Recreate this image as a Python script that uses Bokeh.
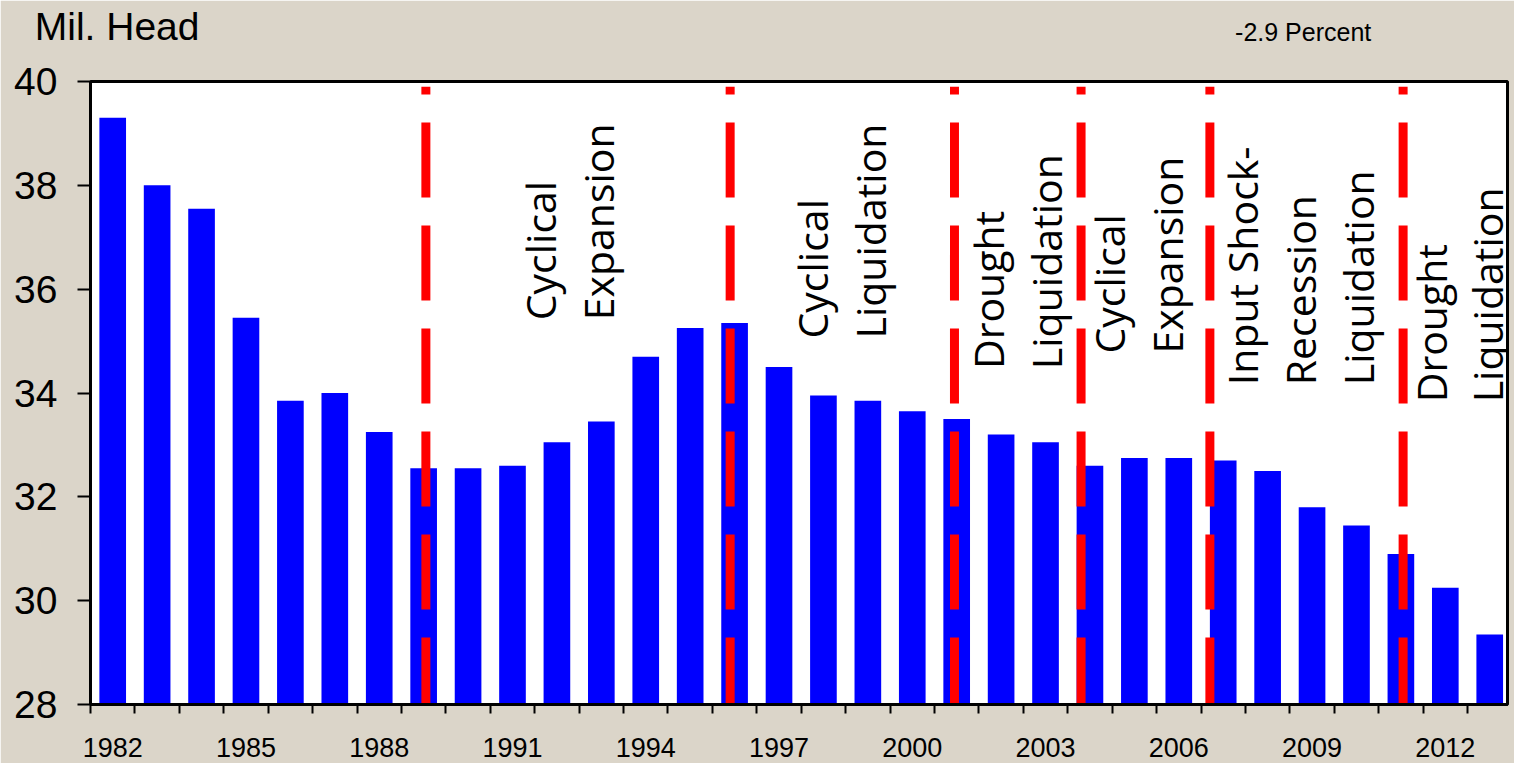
import math
from bokeh.plotting import figure
from bokeh.models import Range1d, FixedTicker, ColumnDataSource, LabelSet, LinearAxis
from bokeh.core.properties import value
from bokeh.embed import file_html
from bokeh.resources import INLINE

# ---- data ----
years = list(range(1982, 2014))
beef_cows_mil_head = [39.3, 38.0, 37.55, 35.45, 33.85, 34.0, 33.25, 32.55, 32.55, 32.6,
                      33.05, 33.45, 34.7, 35.25, 35.35, 34.5, 33.95, 33.85, 33.65, 33.5,
                      33.2, 33.05, 32.6, 32.75, 32.75, 32.7, 32.5, 31.8, 31.45, 30.9,
                      30.25, 29.35]
x_label_years = list(range(1982, 2013, 3))
y_ticks = [28, 30, 32, 34, 36, 38, 40]
phase_breaks = [1989.05, 1995.9, 2000.95, 2003.8, 2006.7, 2011.05]
phase_text = ["Cyclical", "Expansion",
              "Cyclical", "Liquidation",
              "Drought", "Liquidation",
              "Cyclical", "Expansion",
              "Input Shock-", "Recession", "Liquidation",
              "Drought", "Liquidation"]
phase_text_x = [1991.98, 1993.29,
                1998.11, 1999.41,
                2002.07, 2003.37,
                2004.79, 2006.10,
                2007.79, 2009.09, 2010.40,
                2012.04, 2013.30]
phase_text_y = [35.40, 35.40,
                35.05, 35.05,
                34.46, 34.46,
                34.76, 34.76,
                34.15, 34.15, 34.15,
                33.82, 33.82]
y_title = "Mil. Head"
y_title_x = 1982.1
note_text = "-2.9 Percent"
note_x = 2008.8

BG = "#dbd5c9"
AXIS_FONT = "Liberation Sans"

p = figure(width=1514, height=763,
           x_range=Range1d(1981.5, 2013.4), y_range=Range1d(28, 40),
           output_backend="svg", toolbar_location=None,
           min_border_left=90, min_border_right=7, min_border_top=81, min_border_bottom=59,
           background_fill_color="white", border_fill_color=BG,
           outline_line_color="black", outline_line_width=3)
p.grid.visible = False

# bars
p.vbar(x=years, top=beef_cows_mil_head, bottom=28, width=0.6,
       fill_color="#0000ff", line_color=None)

# phase break lines
p.segment(x0=phase_breaks, y0=[28] * len(phase_breaks),
          x1=phase_breaks, y1=[39.9] * len(phase_breaks),
          line_color="#ff0000", line_width=9, line_dash="75 28", line_dash_offset=8)

# phase texts
src = ColumnDataSource(dict(x=phase_text_x, y=phase_text_y, text=phase_text))
p.add_layout(LabelSet(x="x", y="y", text="text", source=src, angle=math.pi / 2,
                      text_font=value("Open Sans"), text_font_size="41px",
                      text_align="left", text_baseline="alphabetic", text_color="black"))

# y axis
yax = p.yaxis[0]
yax.ticker = FixedTicker(ticks=y_ticks)
yax.major_label_text_font = AXIS_FONT
yax.major_label_text_font_size = "39px"
yax.major_label_text_color = "black"
yax.major_tick_out = 13
yax.major_tick_in = 0
yax.major_tick_line_width = 2
yax.major_tick_line_color = "black"
yax.minor_tick_line_color = None
yax.axis_line_width = 3
yax.axis_line_color = "black"
yax.major_label_standoff = 20

# x axis: labels every third year, tick marks at category boundaries
xax = p.xaxis[0]
xax.ticker = FixedTicker(ticks=x_label_years,
                         minor_ticks=[y - 0.5 for y in years] + [years[-1] + 0.5])
xax.major_tick_out = 0
xax.major_tick_in = 0
xax.major_tick_line_color = None
xax.minor_tick_out = 9
xax.minor_tick_in = 0
xax.minor_tick_line_width = 2
xax.minor_tick_line_color = "black"
xax.axis_line_width = 3
xax.axis_line_color = "black"
xax.major_label_text_font = AXIS_FONT
xax.major_label_text_font_size = "27px"
xax.major_label_text_color = "black"
xax.major_label_standoff = 24


def text_axis(x, text, size, standoff):
    ax = LinearAxis(ticker=FixedTicker(ticks=[x]), major_label_overrides={x: text})
    ax.axis_line_color = None
    ax.major_tick_line_color = None
    ax.minor_tick_line_color = None
    ax.major_tick_out = 0
    ax.major_tick_in = 0
    ax.minor_tick_out = 0
    ax.minor_tick_in = 0
    ax.major_label_standoff = standoff
    ax.major_label_text_font = AXIS_FONT
    ax.major_label_text_font_size = size
    ax.major_label_text_color = "black"
    return ax


# top texts, placed in the panel above the plot area (nearest first)
p.add_layout(text_axis(note_x, note_text, "25px", 36), "above")
p.add_layout(text_axis(y_title_x, y_title, "39px", -33), "above")

open("out.html", "w").write(file_html(p, INLINE))
